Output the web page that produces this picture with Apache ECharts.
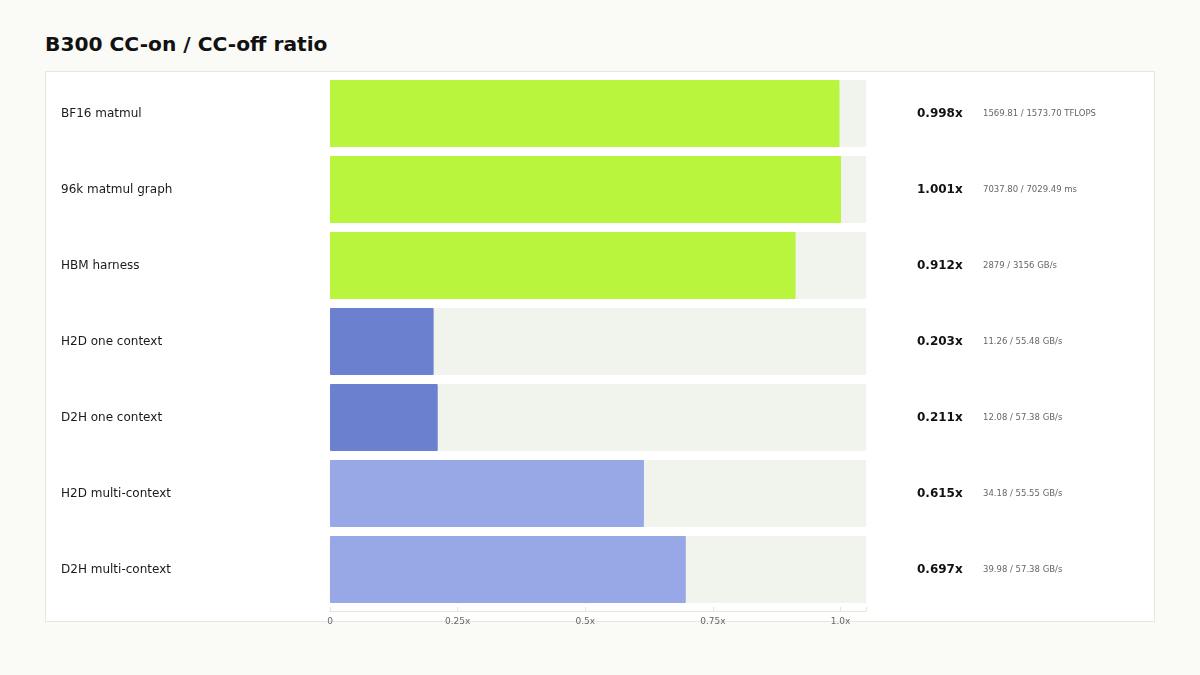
<!DOCTYPE html>
<html lang="en">
  <head>
    <meta charset="UTF-8" />
    <title>B300 CC-on / CC-off ratio</title>
    <script src="https://cdn.jsdelivr.net/npm/echarts@6/dist/echarts.min.js"></script>
    <style>
      body {
        margin: 0;
        width: 1200px;
        height: 675px;
        background: #fafaf6;
        font-family: "DejaVu Sans", sans-serif;
        position: relative;
      }
      h1 {
        position: absolute;
        left: 45px;
        top: 32px;
        margin: 0;
        font-size: 20.2px;
        font-weight: bold;
        color: #111;
      }
      #panel {
        position: absolute;
        left: 45px;
        top: 71px;
        width: 1108px;
        height: 549px;
        background: #fff;
        border: 1px solid #e6e8e0;
      }
      #main {
        position: absolute;
        left: 0;
        top: 0;
        width: 1108px;
        height: 580px;
      }
    </style>
  </head>
  <body>
    <h1>B300 CC-on / CC-off ratio</h1>
    <div id="panel"><div id="main"></div></div>
  </body>
  <script type="text/javascript">
    const categories = [
      "BF16 matmul",
      "96k matmul graph",
      "HBM harness",
      "H2D one context",
      "D2H one context",
      "H2D multi-context",
      "D2H multi-context",
    ];
    const ratios = [0.998, 1.001, 0.912, 0.203, 0.211, 0.615, 0.697];
    const details = [
      "1569.81 / 1573.70 TFLOPS",
      "7037.80 / 7029.49 ms",
      "2879 / 3156 GB/s",
      "11.26 / 55.48 GB/s",
      "12.08 / 57.38 GB/s",
      "34.18 / 55.55 GB/s",
      "39.98 / 57.38 GB/s",
    ];
    const groups = ["compute", "compute", "compute", "single", "single", "multi", "multi"];
    const groupColors = { compute: "#b8f53c", single: "#6b80cf", multi: "#98a8e6" };
    const tickValues = [0, 0.25, 0.5, 0.75, 1.0];
    const tickLabels = ["0", "0.25x", "0.5x", "0.75x", "1.0x"];

    var myChart = echarts.init(document.getElementById("main"));

    var option = {
      animation: false,
      textStyle: { fontFamily: "DejaVu Sans" },
      grid: { left: 284, top: 3.5, width: 536, height: 532, outerBoundsMode: "none", containLabel: false },
      xAxis: {
        type: "value",
        min: 0,
        max: 1.05,
        interval: 0.25,
        offset: 3.5,
        axisLine: { show: true, lineStyle: { color: "#e3e5de" } },
        axisTick: { show: true, inside: true, length: 4, lineStyle: { color: "#e3e5de" } },
        splitLine: { show: false },
        axisLabel: {
          fontSize: 9,
          color: "#666",
          margin: 6,
          customValues: tickValues,
          formatter: function (v) {
            const i = tickValues.indexOf(v);
            return i >= 0 ? tickLabels[i] : "";
          },
        },
      },
      yAxis: [
        {
          type: "category",
          data: categories,
          inverse: true,
          axisLine: { show: false },
          axisTick: { show: false },
          axisLabel: {
            align: "left",
            margin: 269,
            fontSize: 12,
            color: "#1a1a1a",
          },
        },
        {
          type: "category",
          data: categories,
          inverse: true,
          position: "right",
          axisLine: { show: false },
          axisTick: { show: false },
          axisLabel: {
            align: "left",
            margin: 51,
            formatter: function (v, i) {
              return "{r|" + ratios[i].toFixed(3) + "x}{d|" + details[i] + "}";
            },
            rich: {
              r: { fontSize: 12, fontWeight: "bold", color: "#111", width: 66 },
              d: { fontSize: 8.5, color: "#666" },
            },
          },
        },
      ],
      series: [
        {
          type: "bar",
          data: ratios.map(function (v, i) {
            return { value: v, itemStyle: { color: groupColors[groups[i]] } };
          }),
          barWidth: 67,
          showBackground: true,
          backgroundStyle: { color: "#f1f3ed" },
          itemStyle: { borderRadius: 1 },
        },
      ],
    };

    option && myChart.setOption(option);
  </script>
</html>
